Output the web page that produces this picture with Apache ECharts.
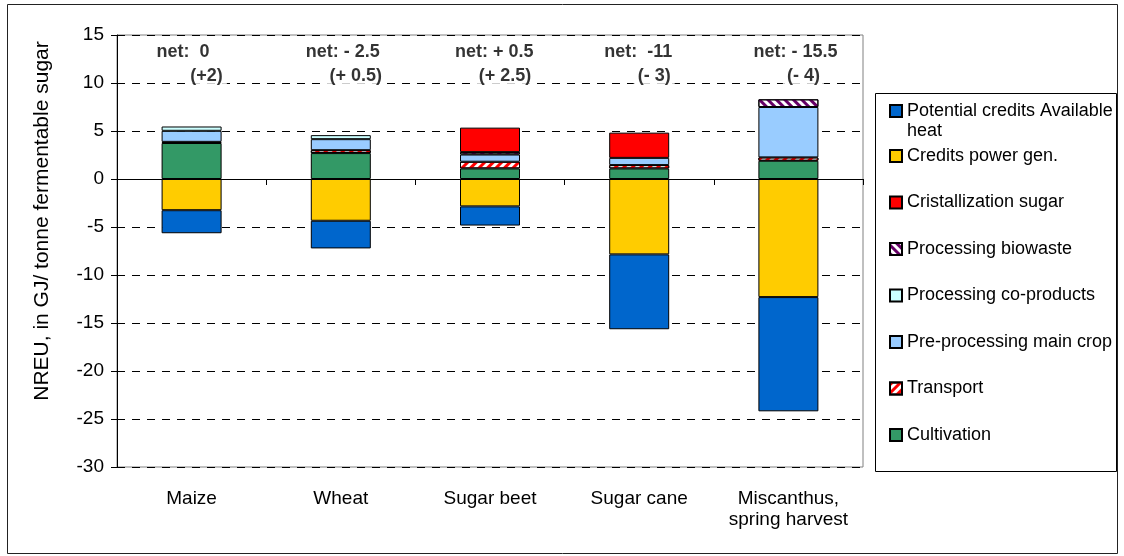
<!DOCTYPE html>
<html>
<head>
<meta charset="utf-8">
<script src="https://cdn.jsdelivr.net/npm/echarts@6/dist/echarts.min.js"></script>
<style>
    html, body { margin: 0; padding: 0; background: #fff; }
    #chart { width: 1124px; height: 556px; }
</style>
</head>
<body>
<div id="chart"></div>
<script>
// values, GJ / tonne fermentable sugar
var categories = ['Maize', 'Wheat', 'Sugar beet', 'Sugar cane', 'Miscanthus,\nspring harvest'];
var cultivation = [3.75, 2.7, 1.1, 1.1, 1.9];
var transport = [0.12, 0.3, 0.7, 0.35, 0.35];
var preProcessing = [1.15, 1.15, 0.75, 0.75, 5.25];
var coProducts = [0.45, 0.42, null, null, null];
var bioWaste = [null, null, 0.25, null, 0.8];
var cristallization = [null, null, 2.55, 2.63, null];
var creditsPower = [-3.25, -4.35, -2.85, -7.85, -12.3];
var creditsHeat = [-2.4, -2.88, -2.0, -7.8, -11.9];
var netLabels = ['net:  0', 'net: - 2.5', 'net: + 0.5', 'net:  -11', 'net: - 15.5'];
var diffLabels = ['(+2)', '(+ 0.5)', '(+ 2.5)', '(- 3)', '(- 4)'];

var FONT = '"Liberation Sans", Arial, sans-serif';
var HEAT = 'Potential credits Available heat';

function bar_series(name, data, color, decal) {
    return {
        name: name,
        type: 'bar',
        stack: 'total',
        barWidth: 60,
        data: data,
        itemStyle: {
            color: color,
            borderColor: '#000',
            borderWidth: 1,
            decal: decal
        },
        emphasis: { disabled: true }
    };
}

// bold annotations above the bars, white box hides the grid line behind
function text_series(texts, yValue, align, dx) {
    return {
        type: 'scatter',
        silent: true,
        symbolSize: 1,
        itemStyle: { color: 'transparent' },
        data: texts.map(function (t, i) { return [i, yValue]; }),
        label: {
            show: true,
            position: 'inside',
            align: align,
            offset: [dx, 0],
            color: '#000',
            backgroundColor: '#fff',
            padding: [1, 4],
            fontFamily: FONT,
            fontWeight: 'bold',
            fontSize: 18,
            formatter: function (p) { return texts[p.dataIndex]; }
        },
        z: 5
    };
}

var dom = document.getElementById('chart');
var myChart = echarts.init(dom);
var option = {
    animation: false,
    grid: {
        left: 117,
        right: 261,
        top: 35,
        bottom: 89,
        show: true,
        borderColor: '#808080',
        borderWidth: 1
    },
    graphic: [
        {
            type: 'rect',
            shape: { x: 7.5, y: 4.5, width: 1110, height: 549 },
            style: { fill: 'none', stroke: '#222', lineWidth: 1 },
            silent: true
        },
        {
            type: 'rect',
            shape: { x: 875.5, y: 93.5, width: 241, height: 378 },
            style: { fill: 'none', stroke: '#000', lineWidth: 1 },
            silent: true
        },
        {
            type: 'text',
            x: 42,
            y: 221,
            rotation: Math.PI / 2,
            silent: true,
            style: {
                text: 'NREU, in GJ/ tonne fermentable sugar',
                fontFamily: FONT,
                fontSize: 21,
                fill: '#000',
                align: 'center',
                verticalAlign: 'middle'
            }
        }
    ],
    legend: [
        {
            data: [HEAT],
            left: 889,
            top: 81,
            padding: 0,
            itemWidth: 12,
            itemHeight: 12,
            selectedMode: false,
            icon: 'rect',
            // empty first line keeps the marker level with the first text line
            formatter: function () { return ' \nPotential credits Available\nheat'; },
            textStyle: {
                fontFamily: FONT,
                fontSize: 18,
                lineHeight: 20,
                color: '#000'
            }
        },
        {
            data: ['Credits power gen.', 'Cristallization sugar', 'Processing biowaste',
                'Processing co-products', 'Pre-processing main crop', 'Transport', 'Cultivation'],
            orient: 'vertical',
            left: 889,
            top: 146,
            padding: 0,
            itemGap: 26.5,
            itemWidth: 12,
            itemHeight: 12,
            selectedMode: false,
            icon: 'rect',
            textStyle: {
                fontFamily: FONT,
                fontSize: 18,
                lineHeight: 20,
                color: '#000'
            }
        }
    ],
    xAxis: [
        {
            type: 'category',
            data: categories,
            position: 'bottom',
            axisLine: { show: false, onZero: false },
            axisTick: { show: false },
            axisLabel: {
                margin: 21,
                interval: 0,
                color: '#000',
                fontFamily: FONT,
                fontSize: 19,
                lineHeight: 21
            }
        },
        {
            type: 'category',
            data: categories,
            position: 'bottom',
            axisLine: { show: true, onZero: true, lineStyle: { color: '#000', width: 1 } },
            axisTick: { show: true, length: 6, lineStyle: { color: '#000' } },
            axisLabel: { show: false }
        }
    ],
    yAxis: {
        type: 'value',
        min: -30,
        max: 15,
        interval: 5,
        axisLine: { show: true, onZero: false, lineStyle: { color: '#000', width: 1 } },
        axisTick: { show: true, length: 6, lineStyle: { color: '#000' } },
        axisLabel: {
            margin: 13,
            color: '#000',
            fontFamily: FONT,
            fontSize: 19
        },
        splitLine: {
            show: true,
            lineStyle: { color: '#000', type: [8, 7], width: 1 }
        }
    },
    series: [
        bar_series('Cultivation', cultivation, '#339966'),
        bar_series('Transport', transport, '#ffffff', {
            symbol: 'rect', symbolSize: 1, color: '#ff0000',
            dashArrayX: [1, 0], dashArrayY: [3, 3], rotation: -Math.PI / 4
        }),
        bar_series('Pre-processing main crop', preProcessing, '#99ccff'),
        bar_series('Processing co-products', coProducts, '#ccffff'),
        bar_series('Processing biowaste', bioWaste, '#ffffff', {
            symbol: 'rect', symbolSize: 1, color: '#660066',
            dashArrayX: [1, 0], dashArrayY: [3, 3], rotation: Math.PI / 4
        }),
        bar_series('Cristallization sugar', cristallization, '#ff0000'),
        bar_series('Credits power gen.', creditsPower, '#ffcc00'),
        bar_series(HEAT, creditsHeat, '#0066cc'),
        text_series(netLabels, 13.2, 'left', -39),
        text_series(diffLabels, 10.7, 'center', 15)
    ]
};
myChart.setOption(option);
</script>
</body>
</html>
